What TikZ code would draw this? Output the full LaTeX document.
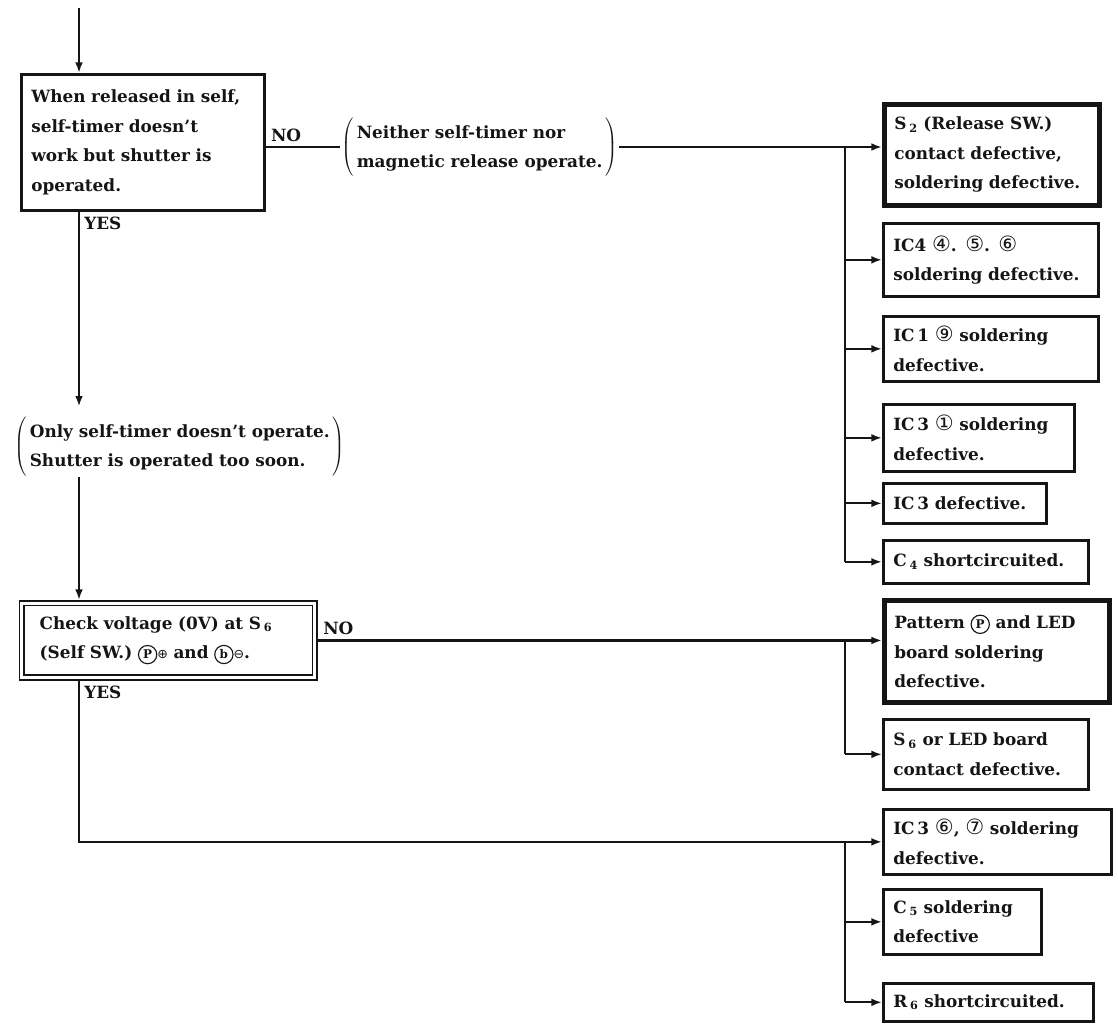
\documentclass[tikz,border=0pt]{standalone}
\usepackage{fontspec}
\setmainfont{DejaVu Serif}
\newfontfamily\symfont{DejaVu Sans}
\usepackage{tikz}
\usetikzlibrary{arrows.meta,positioning}
\definecolor{cInk}{HTML}{151515}
\newcommand{\boxfont}{\fontsize{12}{21}\selectfont\bfseries}
\newcommand{\cnum}[1]{{\symfont\mdseries\fontsize{15}{15}\selectfont #1}}
\newcommand{\cletter}[1]{\tikz[baseline=(cl.base)]\node[draw=cInk,circle,line width=0.8pt,inner sep=0pt,minimum size=13pt,font=\fontsize{8.5}{9}\selectfont\bfseries] (cl) {#1};}
\newcommand{\subs}[1]{\,\textsubscript{#1}}
\newcommand{\paren}[1]{$\left(\begin{tabular}{@{\hspace{2pt}}l@{\hspace{2pt}}}#1\end{tabular}\right)$}
\tikzset{
  tbox/.style={draw=cInk,line width=1.9pt,anchor=north west,align=left,inner xsep=0.25cm,inner ysep=2pt,text=cInk,font=\boxfont},
  hbox/.style={tbox,line width=3.2pt},
  dbox/.style={tbox,double,double distance=2pt,line width=1.3pt,outer sep=2.3pt,inner xsep=0.45cm},
  note/.style={inner sep=1pt,text=cInk,font=\boxfont},
  wire/.style={draw=cInk,line width=1.5pt},
  arr/.style={wire,-{Latex[length=7.5pt,width=5.5pt]}},
  lbl/.style={font=\boxfont,text=cInk,inner sep=3pt},
}
\begin{document}
\begin{tikzpicture}[x=0.025cm,y=-0.025cm]
  \useasboundingbox (0,0) rectangle (1118,1028);
  % checks and notes
  \node[tbox,text width=5.575cm,minimum height=3.4cm] (qSelf) at (20,73) {When released in self,\\ self-timer doesn't\\ work but shutter is\\ operated.};
  \node[note,anchor=west] (nBoth) at (340,147) {\paren{Neither self-timer nor\\ magnetic release operate.}};
  \node[note,anchor=north west] (nOnly) at (13,415) {\paren{Only self-timer doesn't operate.\\ Shutter is operated too soon.}};
  \node[dbox,text width=6.425cm,minimum height=1.86cm] (qVolt) at (18.5,600) {Check voltage (0V) at S\subs{6}\\ (Self SW.) \cletter{P}{\symfont\mdseries\small ⊕} and \cletter{b}{\symfont\mdseries\small ⊖}.};
  % causes
  \node[hbox,text width=4.875cm,minimum height=2.525cm] (rRel) at (882,102) {S\subs{2} (Release SW.)\\ contact defective,\\ soldering defective.};
  \node[tbox,text width=4.875cm,minimum height=1.825cm] (rFour) at (882,222) {IC4 \cnum{④}. \cnum{⑤}. \cnum{⑥}\\ soldering defective.};
  \node[tbox,text width=4.875cm,minimum height=1.625cm] (rOne) at (882,315) {IC\,1 \cnum{⑨} soldering\\ defective.};
  \node[tbox,text width=4.275cm,minimum height=1.675cm] (rThreeA) at (882,403) {IC\,3 \cnum{①} soldering\\ defective.};
  \node[tbox,text width=3.575cm,minimum height=1.0cm] (rThreeB) at (882,482) {IC\,3 defective.};
  \node[tbox,text width=4.625cm,minimum height=1.075cm] (rCfour) at (882,539) {C\subs{4} shortcircuited.};
  \node[hbox,text width=5.125cm,minimum height=2.55cm] (rPat) at (882,598) {Pattern \cletter{P} and LED\\ board soldering\\ defective.};
  \node[tbox,text width=4.625cm,minimum height=1.75cm] (rSix) at (882,718) {S\subs{6} or LED board\\ contact defective.};
  \node[tbox,text width=5.2cm,minimum height=1.625cm] (rThreeC) at (882,808) {IC\,3 \cnum{⑥}, \cnum{⑦} soldering\\ defective.};
  \node[tbox,text width=3.45cm,minimum height=1.625cm] (rCfive) at (882,888) {C\subs{5} soldering\\ defective};
  \node[tbox,text width=4.75cm,minimum height=0.95cm] (rRsix) at (882,982) {R\subs{6} shortcircuited.};
  % connectors
  \coordinate (spine) at (79,8);
  \coordinate (bus) at (845,0);
  \draw[arr] (spine) -- (spine |- qSelf.north);
  \draw[wire] (nBoth.west -| qSelf.east) node[lbl,anchor=south west]{NO} -- (nBoth.west);
  \draw[arr] (nBoth.east) -- (nBoth.east -| rRel.west);
  \draw[wire] (bus |- nBoth.east) -- (bus |- rCfour.west);
  \foreach \n in {rFour,rOne,rThreeA,rThreeB,rCfour}
    \draw[arr] (bus |- \n.west) -- (\n.west);
  \draw[arr] (spine |- qSelf.south) node[lbl,anchor=north west]{YES} -- ([yshift=6pt]spine |- nOnly.north);
  \draw[arr] (spine |- nOnly.south) -- (spine |- qVolt.north);
  \draw[arr] (qVolt.east) node[lbl,anchor=south west]{NO} -- (qVolt.east -| rPat.west);
  \draw[wire] (bus |- qVolt.east) -- (bus |- rSix.west);
  \draw[arr] (bus |- rSix.west) -- (rSix.west);
  \draw[arr] (spine |- qVolt.south) node[lbl,anchor=north west]{YES} |- (rThreeC.west);
  \draw[wire] (bus |- rThreeC.west) -- (bus |- rRsix.west);
  \foreach \n in {rCfive,rRsix}
    \draw[arr] (bus |- \n.west) -- (\n.west);
\end{tikzpicture}
\end{document}
